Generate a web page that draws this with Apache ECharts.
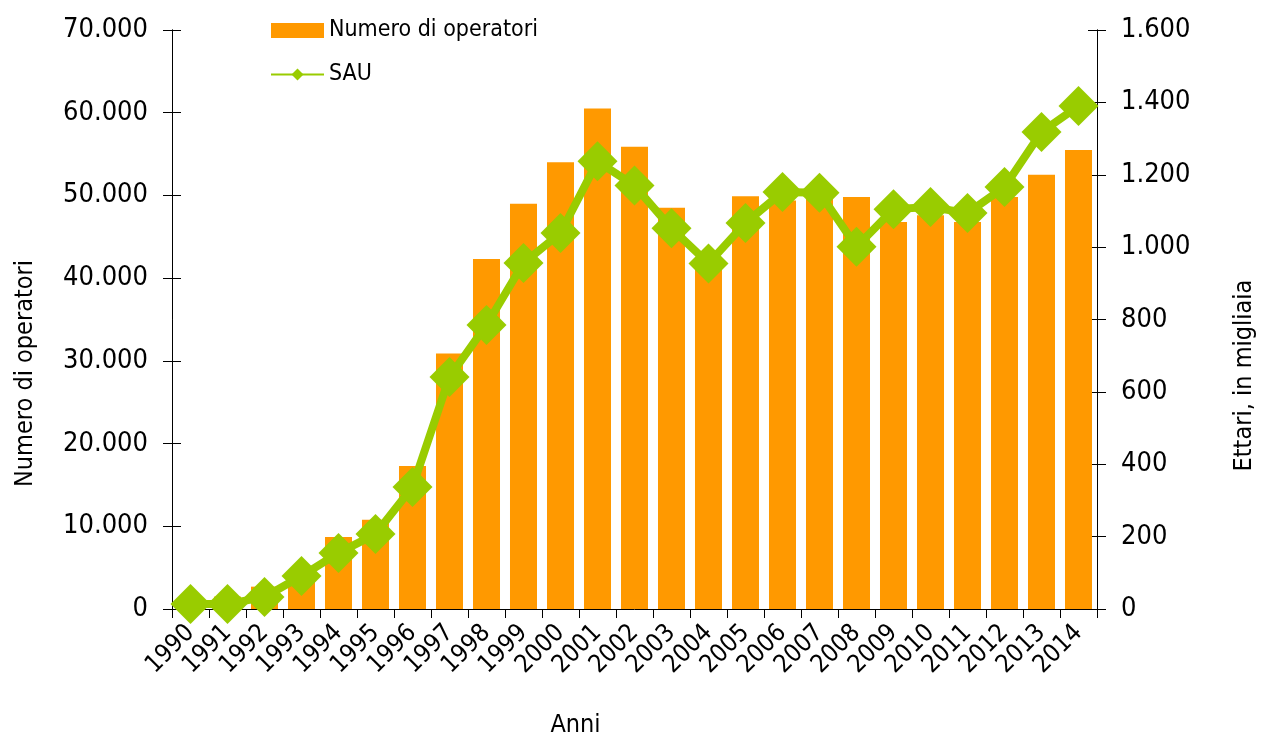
<!DOCTYPE html>
<html>
<head>
<meta charset="utf-8">
<script src="https://cdn.jsdelivr.net/npm/echarts@6/dist/echarts.min.js"></script>
<style>
  html, body { margin: 0; padding: 0; background: #fff; }
  #chart { width: 1261px; height: 736px; }
</style>
</head>
<body>
<div id="chart"></div>
<script>
// anni
const anni = ['1990','1991','1992','1993','1994','1995','1996','1997','1998','1999','2000','2001','2002',
  '2003','2004','2005','2006','2007','2008','2009','2010','2011','2012','2013','2014'];
// numero di operatori (asse sinistro)
const operatori = [1000, 1500, 2700, 4500, 8700, 10800, 17300, 30900, 42300, 49000, 54000, 60500, 55900,
  48500, 41000, 49900, 49400, 50300, 49800, 46800, 47600, 46800, 49800, 52500, 55500];
// SAU, ettari in migliaia (asse destro)
const sau = [14, 14, 33, 91, 155, 207, 337, 641, 785, 956, 1039, 1237, 1170,
  1052, 955, 1067, 1152, 1150, 1001, 1105, 1111, 1094, 1166, 1318, 1390];

const font = 'DejaVu Sans Condensed';
const fmt = v => String(v).replace(/\B(?=(\d{3})+(?!\d))/g, '.');

const myChart = echarts.init(document.getElementById('chart'));

// tacche che attraversano l'asse: metà fuori, metà dentro
const tickOut = { show: true, length: 9, lineStyle: { color: '#000', width: 1 } };
const tickIn = { show: true, inside: true, length: 9, lineStyle: { color: '#000', width: 1 } };
const axLine = { show: true, lineStyle: { color: '#000', width: 1 } };

const option = {
  backgroundColor: '#fff',
  animation: false,
  textStyle: { fontFamily: font },
  grid: { left: 172, right: 164, top: 30, bottom: 127, outerBoundsMode: 'none', containLabel: false },
  legend: {
    orient: 'vertical',
    left: 270,
    top: 19,
    padding: 0,
    itemWidth: 53,
    itemHeight: 15,
    itemGap: 21,
    textStyle: { fontFamily: font, fontSize: 23, color: '#000' },
    data: [
      { name: 'Numero di operatori', icon: 'rect' },
      { name: 'SAU' }
    ]
  },
  xAxis: {
    type: 'category',
    data: anni,
    name: 'Anni',
    nameLocation: 'middle',
    nameGap: 104,
    nameTextStyle: { fontFamily: font, fontSize: 25, color: '#000', padding: [0, 118, 0, 0] },
    axisLine: axLine,
    axisTick: tickOut,
    axisLabel: { interval: 0, rotate: 45, fontFamily: font, fontSize: 25, color: '#000', margin: 20 },
    splitLine: { show: false }
  },
  yAxis: [
    {
      type: 'value',
      min: 0, max: 70000, interval: 10000,
      name: 'Numero di operatori',
      nameLocation: 'middle',
      nameGap: 134,
      nameTextStyle: { fontFamily: font, fontSize: 25, color: '#000', padding: [0, 108, 0, 0] },
      axisLine: axLine,
      axisTick: tickOut,
      axisLabel: { fontFamily: font, fontSize: 27, color: '#000', margin: 24, formatter: fmt },
      splitLine: { show: false }
    },
    {
      type: 'value',
      min: 0, max: 1600, interval: 200,
      position: 'right',
      name: 'Ettari, in migliaia',
      nameLocation: 'middle',
      nameGap: 135,
      nameRotate: 90,
      nameTextStyle: { fontFamily: font, fontSize: 25, color: '#000', padding: [0, 112, 0, 0] },
      axisLine: axLine,
      axisTick: tickOut,
      axisLabel: { fontFamily: font, fontSize: 27, color: '#000', margin: 24, formatter: fmt },
      splitLine: { show: false }
    },
    {
      type: 'value',
      min: 0, max: 70000, interval: 10000,
      position: 'left',
      offset: 0,
      axisLine: { show: true, lineStyle: { color: '#000', width: 1 } },
      axisTick: tickIn,
      axisLabel: { show: false },
      splitLine: { show: false }
    },
    {
      type: 'value',
      min: 0, max: 1600, interval: 200,
      position: 'right',
      offset: 0,
      axisLine: { show: true, lineStyle: { color: '#000', width: 1 } },
      axisTick: tickIn,
      axisLabel: { show: false },
      splitLine: { show: false }
    }
  ],
  series: [
    {
      name: 'Numero di operatori',
      type: 'bar',
      data: operatori,
      yAxisIndex: 0,
      barCategoryGap: '27%',
      itemStyle: { color: '#FF9900' }
    },
    {
      name: 'SAU',
      type: 'line',
      data: sau,
      yAxisIndex: 1,
      symbol: 'diamond',
      symbolSize: 40,
      showAllSymbol: true,
      lineStyle: { color: '#99CC00', width: 8 },
      itemStyle: { color: '#99CC00' }
    },
    // serie vuote solo per agganciare gli assi delle tacche interne
    { type: 'line', data: [], yAxisIndex: 2, silent: true },
    { type: 'line', data: [], yAxisIndex: 3, silent: true }
  ]
};

myChart.setOption(option);
</script>
</body>
</html>
